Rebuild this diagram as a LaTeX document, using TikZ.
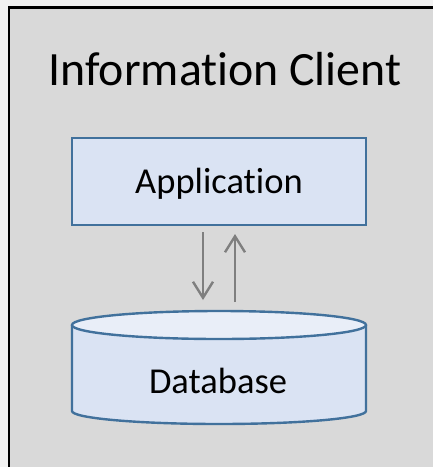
\documentclass[tikz,border=0pt]{standalone}
\usepackage{fontspec}
\setmainfont[Ligatures=NoCommon]{Carlito}
\usetikzlibrary{arrows.meta}
\definecolor{pagebg}{HTML}{F2F2F2}
\definecolor{panelbg}{HTML}{D9D9D9}
\definecolor{boxfill}{HTML}{DAE3F3}
\definecolor{boxtop}{HTML}{E9EEF8}
\definecolor{boxline}{HTML}{41719C}
\definecolor{flow}{HTML}{7F7F7F}
\tikzset{
  panel/.style={draw=black, line width=2.6pt, fill=panelbg},
  appbox/.style={draw=boxline, line width=2.4pt, fill=boxfill, minimum width=294pt, minimum height=87pt, inner sep=0pt},
  dbline/.style={draw=boxline, line width=2.4pt},
  flowarrow/.style={draw=flow, line width=2.4pt, -{Straight Barb[length=16pt, width=20pt, line width=2.4pt]}},
  title/.style={font=\fontsize{47.8}{56}\selectfont, anchor=base},
  label/.style={font=\fontsize{36.5}{44}\selectfont, anchor=base}
}
\begin{document}
\begin{tikzpicture}[x=1pt, y=-1pt]
  \useasboundingbox (0,0) rectangle (433,467);
  \fill[pagebg] (0,0) rectangle (433,467);
  % the outer client panel runs past the right and bottom edges
  \draw[panel] (9,7.5) rectangle (445,480);
  \node[title] (title) at (225,85) {Information Client};

  % application box
  \node[appbox] (app) at (219,181.5) {};
  \node[label] (applabel) at (219,193) {Application};

  % database cylinder (y axis points down, so the lower rim runs 180 -> 0)
  \fill[boxfill] (72,325) -- (72,411) arc[start angle=180, end angle=0, x radius=147, y radius=13] -- (366,325) -- cycle;
  \draw[dbline] (72,325) -- (72,411) arc[start angle=180, end angle=0, x radius=147, y radius=13] -- (366,325);
  \draw[dbline, fill=boxtop] (219,325) ellipse[x radius=147, y radius=14];
  \node[label] (dblabel) at (218,393) {Database};

  % request / response arrows between application and database
  \coordinate (downS) at (203,232);
  \coordinate (downE) at (203,300);
  \coordinate (upS) at (235,302);
  \coordinate (upE) at (235,234);
  \draw[flowarrow] (downS) -- (downE);
  \draw[flowarrow] (upS) -- (upE);
\end{tikzpicture}
\end{document}
